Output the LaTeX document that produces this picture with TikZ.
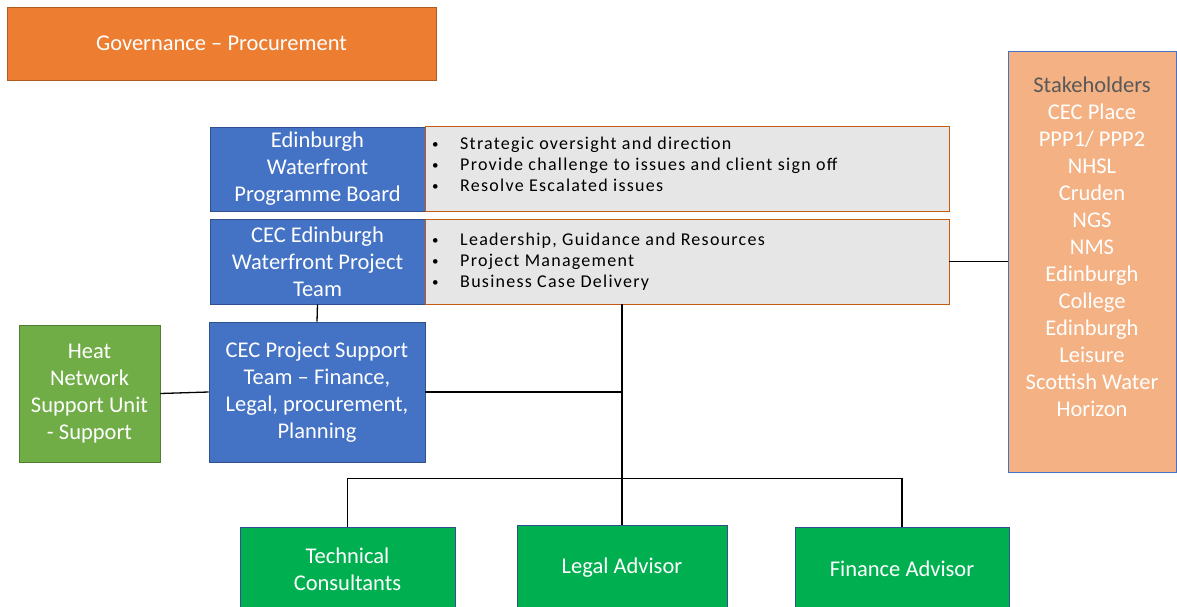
\documentclass[tikz,border=0pt]{standalone}
\usepackage{fontspec}
\setmainfont{Carlito}
\newfontfamily\bulletfont[LetterSpace=7]{Carlito}
\usetikzlibrary{positioning}
\definecolor{govorange}{HTML}{ED7D31}
\definecolor{govedge}{HTML}{AE5A21}
\definecolor{teamblue}{HTML}{4472C4}
\definecolor{teamedge}{HTML}{2F528F}
\definecolor{notegray}{HTML}{E7E6E6}
\definecolor{noteedge}{HTML}{C55A11}
\definecolor{unitgreen}{HTML}{70AD47}
\definecolor{unitedge}{HTML}{507E32}
\definecolor{advgreen}{HTML}{00B050}
\definecolor{stakepeach}{HTML}{F4B183}
\definecolor{stakehead}{HTML}{595959}

\tikzset{
  orgbox/.style={draw, line width=0.8pt, inner sep=0pt, align=center, text=white,
    font=\fontsize{22.5}{27}\selectfont},
  govbox/.style={orgbox, fill=govorange, draw=govedge},
  bluebox/.style={orgbox, fill=teamblue, draw=teamedge},
  notebox/.style={orgbox, fill=notegray, draw=noteedge},
  unitbox/.style={orgbox, fill=unitgreen, draw=unitedge},
  advbox/.style={orgbox, fill=advgreen, draw=teamedge},
  stakebox/.style={orgbox, fill=stakepeach, draw=teamblue},
  bullets/.style={inner sep=0pt, anchor=north west, align=left, text=black,
    font=\bulletfont\fontsize{18}{21}\selectfont},
  link/.style={line width=1.3pt},
}
\newcommand{\bul}[1]{\makebox[28pt][l]{\raisebox{1pt}{\fontsize{13}{13}\selectfont\textbullet}}#1}

\begin{document}
\begin{tikzpicture}[x=1pt,y=-1pt]
  \useasboundingbox (0,0) rectangle (1177,607);
  % Governance
  \node[govbox, minimum width=429pt, minimum height=73pt] (gov) at (221.5,43.5) {Governance -- Procurement};
  % Board and project team, each with its remit
  \node[bluebox, minimum width=215pt, minimum height=84pt] (board) at (317.5,169) {Edinburgh\\Waterfront\\Programme Board};
  \node[notebox, minimum width=524pt, minimum height=85pt] (boardnote) at (687,168.5) {};
  \node[bullets] (boardlist) at (432,136.5) {\bul{Strategic oversight and direction}\\
    \bul{Provide challenge to issues and client sign off}\\
    \bul{Resolve Escalated issues}};
  \node[bluebox, minimum width=215pt, minimum height=85pt] (team) at (317.5,261.5) {CEC Edinburgh\\Waterfront Project\\Team};
  \node[notebox, minimum width=524pt, minimum height=85pt] (teamnote) at (687,261.5) {};
  \node[bullets] (teamlist) at (432,233) {\bul{Leadership, Guidance and Resources}\\
    \bul{Project Management}\\
    \bul{Business Case Delivery}};
  % Support
  \node[bluebox, minimum width=216pt, minimum height=140pt] (support) at (317,392) {CEC Project Support\\Team -- Finance,\\Legal, procurement,\\Planning};
  \node[unitbox, minimum width=141pt, minimum height=137pt] (heat) at (89.5,393.5) {Heat\\Network\\Support Unit\\- Support};
  % Stakeholders
  \node[stakebox, minimum width=168pt, minimum height=421pt] (stake) at (1092,261.5) {};
  \node[inner sep=0pt, anchor=north, align=center, text=white, font=\fontsize{22.5}{27}\selectfont] (stakelist) at (1092,77)
    {\textcolor{stakehead}{Stakeholders}\\CEC Place\\PPP1/ PPP2\\NHSL\\Cruden\\NGS\\NMS\\Edinburgh\\College\\Edinburgh\\Leisure\\Scottish Water\\Horizon};
  % Advisors
  \node[advbox, minimum width=215pt, minimum height=84pt] (tech) at (347.5,569) {Technical\\Consultants};
  \node[advbox, minimum width=210pt, minimum height=86pt] (legal) at (622,568) {Legal Advisor};
  \node[advbox, minimum width=214pt, minimum height=84pt] (fin) at (902,569) {Finance Advisor};
  %
  % Connectors
  \draw[link] (teamnote.east) -- (teamnote.east -| stake.west);
  \draw[link] (team.south) -- (support.north);
  \draw[link] (heat.east) -- (support.west);
  \draw[link] (support.east) -- (support.east -| legal.north);
  \draw[link] (legal.north |- teamnote.south) -- (legal.north);
  \draw[link] (tech.north) -- ++(0,-48) -| (fin.north);
\end{tikzpicture}
\end{document}
